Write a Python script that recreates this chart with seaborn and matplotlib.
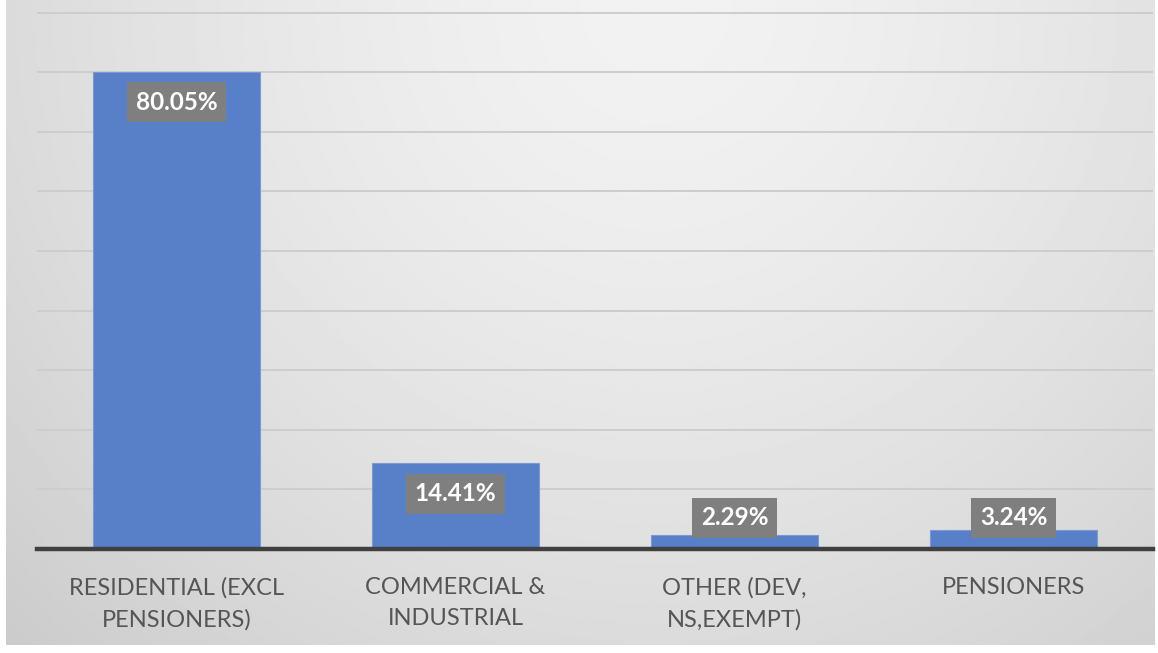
import numpy as np
import seaborn as sns
import matplotlib.pyplot as plt
import pandas as pd

categories = ['RESIDENTIAL (EXCL\nPENSIONERS)', 'COMMERCIAL &\nINDUSTRIAL',
              'OTHER (DEV,\nNS,EXEMPT)', 'PENSIONERS']
shares = [80.05, 14.41, 2.29, 3.24]
share_labels = ['80.05%', '14.41%', '2.29%', '3.24%']

df = pd.DataFrame({'Category': categories, 'Share': shares})

sns.set_theme(style='white')
plt.rcParams['font.family'] = ['Lato', 'DejaVu Sans']

fig = plt.figure(figsize=(11.58, 6.53), dpi=100)
fig.patch.set_facecolor('white')

# gradient backdrop, light at top centre, darker towards the corners
bg = fig.add_axes([6 / 1158, 8 / 653, 1149 / 1158, 645 / 653], zorder=0)
xx, yy = np.meshgrid(np.linspace(0, 1149, 400), np.linspace(0, 645, 300))
r = np.hypot(xx - 650, yy)
shade = np.clip(242 - 0.0014 * r ** 1.5, 180, 255) / 255
bg.imshow(shade, cmap='gray', vmin=0, vmax=1, aspect='auto', extent=[0, 1, 1, 0])
bg.set_axis_off()

ax = fig.add_axes([37 / 1158, 104 / 653, 1116 / 1158, 542.4 / 653], zorder=1)
ax.patch.set_alpha(0)

sns.barplot(x='Category', y='Share', data=df, color='#5880c8', width=0.6,
            saturation=1, edgecolor='#7a9ad6', linewidth=0.8, ax=ax, zorder=3)

ax.set_ylim(0, 91)
ax.set_yticks(np.arange(0, 100, 10))
ax.yaxis.grid(True, color='#cdcdcd', linewidth=1.4, zorder=0)
ax.set_axisbelow(True)
ax.tick_params(axis='y', left=False, labelleft=False)
ax.tick_params(axis='x', bottom=False, pad=14, labelsize=17, labelcolor='#555555')
for lab in ax.get_xticklabels():
    lab.set_linespacing(1.6)
ax.set_xlabel('')
ax.set_ylabel('')
for s in ['top', 'right', 'left']:
    ax.spines[s].set_visible(False)
ax.spines['bottom'].set_color('#404040')
ax.spines['bottom'].set_linewidth(3.2)
ax.spines['bottom'].set_zorder(5)

# Excel puts labels inside the end of the bar, lifting them when the bar is too short
for i, (v, txt) in enumerate(zip(shares, share_labels)):
    ax.annotate(txt, xy=(i, max(v, 10.4)), xytext=(0, -22), textcoords='offset points',
                ha='center', va='center', fontsize=17.5, fontweight='bold', color='white',
                bbox=dict(boxstyle='square,pad=0.35', facecolor='#7f7f7f', edgecolor='none'),
                zorder=6)

fig.savefig('out.png', dpi=100)
